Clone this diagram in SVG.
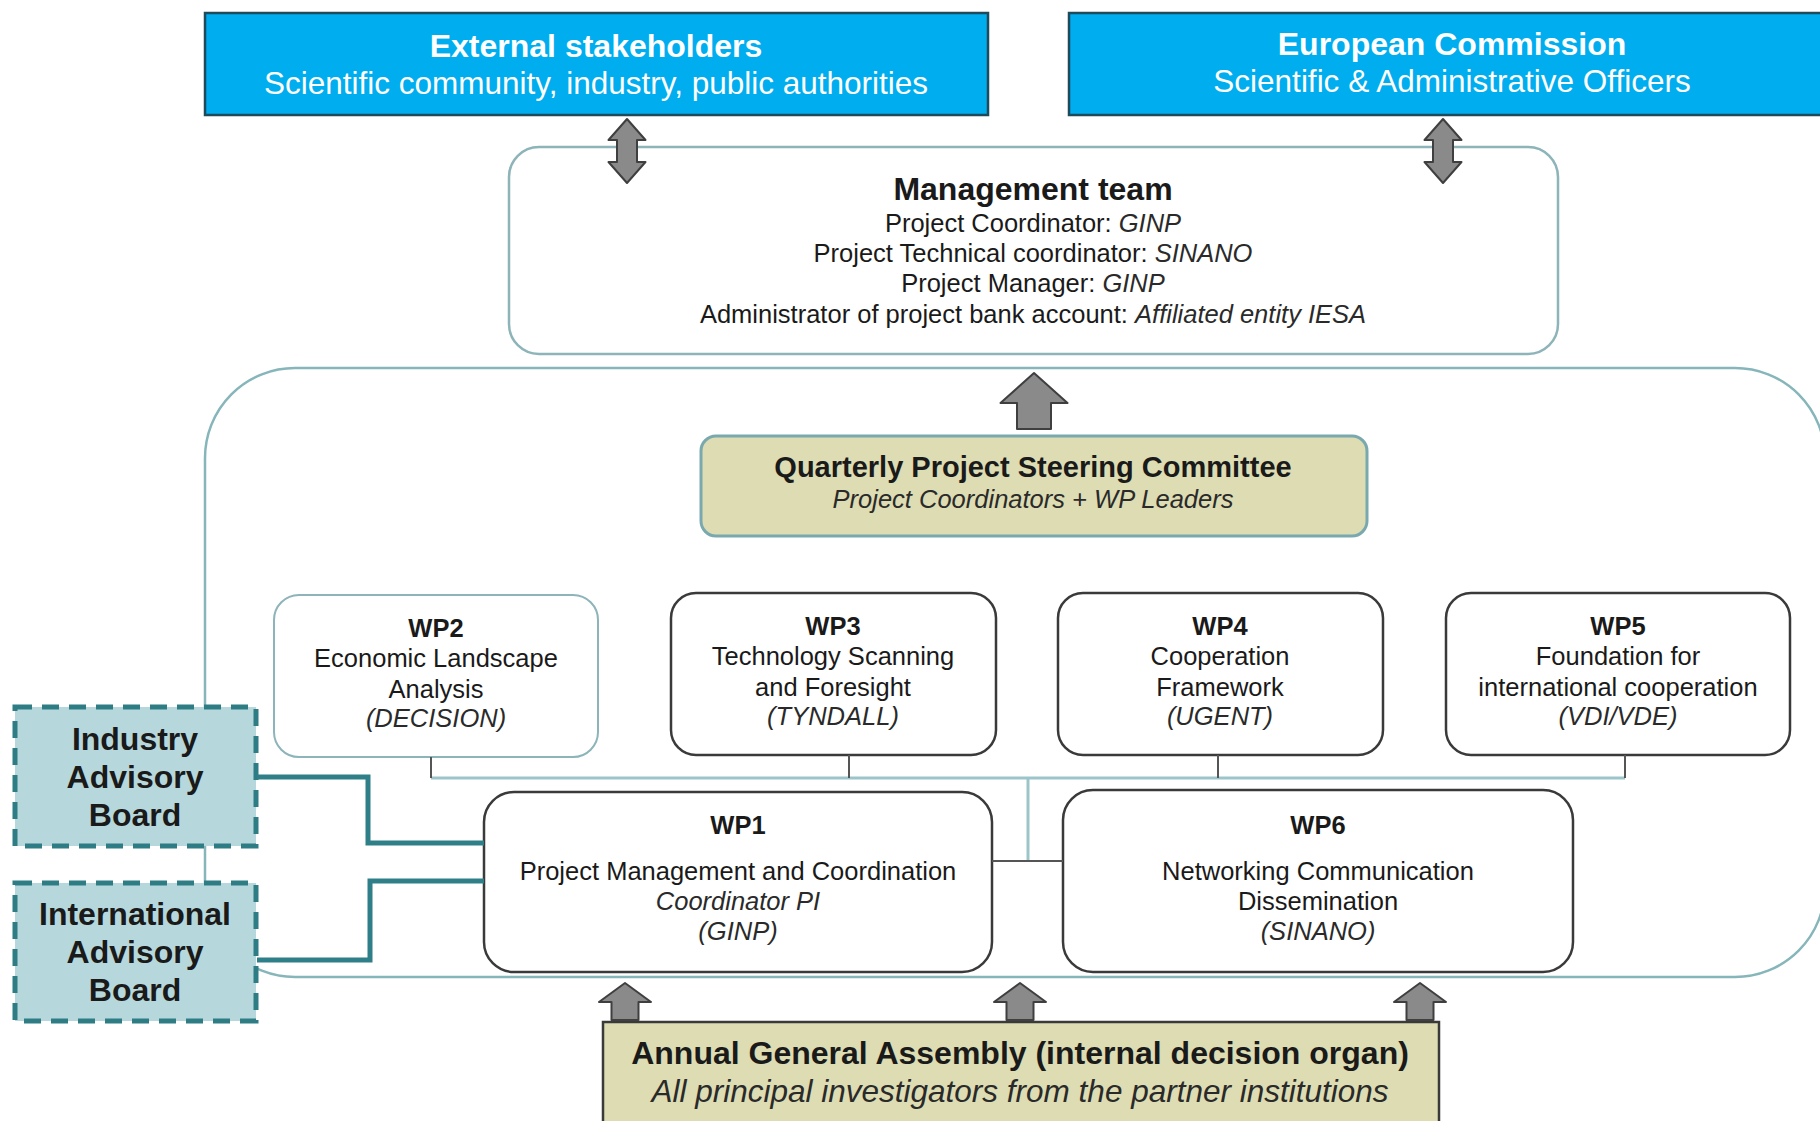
<svg xmlns="http://www.w3.org/2000/svg" width="1820" height="1121" viewBox="0 0 1820 1121">
<style>
text{font-family:"Liberation Sans",Arial,sans-serif;fill:#1a1a1a;text-anchor:middle}
.t{font-size:32px;font-weight:bold}
.st{font-size:29px;font-weight:bold}
.w{fill:#ffffff}
.b{font-size:25.5px}
.bb{font-size:25.5px;font-weight:bold}
.i{font-style:italic;fill:#2a2a2a}
.blue{fill:#00ADEF;stroke:#1F4A5C;stroke-width:2.5}
.khaki{fill:#DDDCB2}
.wp{fill:#ffffff;stroke:#3a3a3a;stroke-width:2.5}
.wpl{fill:#ffffff;stroke:#8DB4B9;stroke-width:2}
.adv{fill:#B6D8DC;stroke:#2E7C84;stroke-width:5;stroke-dasharray:17 10}
.arr{fill:#8A8A8A;stroke:#3f3f3f;stroke-width:2;stroke-linejoin:round}
.teal{fill:none;stroke:#9CC5C9;stroke-width:3}
.stem{fill:none;stroke:#555555;stroke-width:2}
.advc{fill:none;stroke:#2E7F87;stroke-width:5}
</style>

<g id="container">
<rect x="205" y="368" width="1620" height="609" rx="90" ry="90" fill="#ffffff" stroke="#86B5BA" stroke-width="2.5"/>
</g>

<g id="external-stakeholders">
<rect class="blue" x="205" y="13" width="783" height="102"/>
<text class="t w" x="596" y="57">External stakeholders</text>
<text class="w" x="596" y="94" style="font-size:31.5px">Scientific community, industry, public authorities</text>
</g>

<g id="european-commission">
<rect class="blue" x="1069" y="13" width="780" height="102"/>
<text class="t w" x="1452" y="55">European Commission</text>
<text class="w" x="1452" y="92" style="font-size:31.5px">Scientific &amp; Administrative Officers</text>
</g>

<g id="management-team">
<rect x="509" y="147" width="1049" height="207" rx="30" ry="30" fill="#ffffff" stroke="#8DB4B9" stroke-width="2.5"/>
<text class="t" x="1033" y="200">Management team</text>
<text class="b" x="1033" y="232">Project Coordinator: <tspan class="i">GINP</tspan></text>
<text class="b" x="1033" y="262">Project Technical coordinator: <tspan class="i">SINANO</tspan></text>
<text class="b" x="1033" y="292">Project Manager: <tspan class="i">GINP</tspan></text>
<text class="b" x="1033" y="323">Administrator of project bank account: <tspan class="i">Affiliated entity IESA</tspan></text>
</g>

<g id="steering-committee">
<rect class="khaki" x="701" y="436" width="666" height="100" rx="15" ry="15" stroke="#79A9AE" stroke-width="3"/>
<text class="st" x="1033" y="477">Quarterly Project Steering Committee</text>
<text class="b i" x="1033" y="508">Project Coordinators + WP Leaders</text>
</g>

<g id="wp2">
<rect class="wpl" x="274" y="595" width="324" height="162" rx="25" ry="25"/>
<text class="bb" x="436" y="637">WP2</text>
<text class="b" x="436" y="667">Economic Landscape</text>
<text class="b" x="436" y="698">Analysis</text>
<text class="b i" x="436" y="727">(DECISION)</text>
</g>

<g id="wp3">
<rect class="wp" x="671" y="593" width="325" height="162" rx="25" ry="25"/>
<text class="bb" x="833" y="635">WP3</text>
<text class="b" x="833" y="665">Technology Scanning</text>
<text class="b" x="833" y="696">and Foresight</text>
<text class="b i" x="833" y="725">(TYNDALL)</text>
</g>

<g id="wp4">
<rect class="wp" x="1058" y="593" width="325" height="162" rx="25" ry="25"/>
<text class="bb" x="1220" y="635">WP4</text>
<text class="b" x="1220" y="665">Cooperation</text>
<text class="b" x="1220" y="696">Framework</text>
<text class="b i" x="1220" y="725">(UGENT)</text>
</g>

<g id="wp5">
<rect class="wp" x="1446" y="593" width="344" height="162" rx="25" ry="25"/>
<text class="bb" x="1618" y="635">WP5</text>
<text class="b" x="1618" y="665">Foundation for</text>
<text class="b" x="1618" y="696">international cooperation</text>
<text class="b i" x="1618" y="725">(VDI/VDE)</text>
</g>

<g id="wp1">
<rect class="wp" x="484" y="792" width="508" height="180" rx="30" ry="30"/>
<text class="bb" x="738" y="834">WP1</text>
<text class="b" x="738" y="880">Project Management and Coordination</text>
<text class="b i" x="738" y="910">Coordinator PI</text>
<text class="b i" x="738" y="940">(GINP)</text>
</g>

<g id="wp6">
<rect class="wp" x="1063" y="790" width="510" height="182" rx="30" ry="30"/>
<text class="bb" x="1318" y="834">WP6</text>
<text class="b" x="1318" y="880">Networking Communication</text>
<text class="b" x="1318" y="910">Dissemination</text>
<text class="b i" x="1318" y="940">(SINANO)</text>
</g>

<g id="industry-advisory-board">
<rect class="adv" x="15" y="707" width="241" height="139"/>
<text class="t" x="135" y="750">Industry</text>
<text class="t" x="135" y="788">Advisory</text>
<text class="t" x="135" y="826">Board</text>
</g>

<g id="international-advisory-board">
<rect class="adv" x="15" y="883" width="241" height="138"/>
<text class="t" x="135" y="925">International</text>
<text class="t" x="135" y="963">Advisory</text>
<text class="t" x="135" y="1001">Board</text>
</g>

<g id="annual-general-assembly">
<rect class="khaki" x="603" y="1022" width="836" height="110" stroke="#3a3a3a" stroke-width="2.5"/>
<text class="t" x="1020" y="1064">Annual General Assembly (internal decision organ)</text>
<text class="i" x="1020" y="1102" style="font-size:31.5px">All principal investigators from the partner institutions</text>
</g>

<g id="connectors">
<path class="teal" d="M431,778 H1625"/>
<path class="teal" d="M1028,778 V861"/>
<path class="stem" d="M431,757 V778 M849,755 V778 M1218,755 V778 M1625,755 V778"/>
<path class="stem" d="M992,861 H1063"/>
<path class="advc" d="M257,777 H368 V843 H484"/>
<path class="advc" d="M257,960 H370 V881 H484"/>
<polygon class="arr" points="627,119 645.5,140 637,140 637,162 645.5,162 627,183 608.5,162 617,162 617,140 608.5,140"/>
<polygon class="arr" points="1443,119 1461.5,140 1453,140 1453,162 1461.5,162 1443,183 1424.5,162 1433,162 1433,140 1424.5,140"/>
<polygon class="arr" points="1034,373 1067.5,403 1051,403 1051,429 1017,429 1017,403 1000.5,403"/>
<polygon class="arr" points="625,983 651,1002 638.5,1002 638.5,1020 611.5,1020 611.5,1002 599,1002"/>
<polygon class="arr" points="1020,983 1046,1002 1033.5,1002 1033.5,1020 1006.5,1020 1006.5,1002 994,1002"/>
<polygon class="arr" points="1420,983 1446,1002 1433.5,1002 1433.5,1020 1406.5,1020 1406.5,1002 1394,1002"/>
</g>
</svg>
